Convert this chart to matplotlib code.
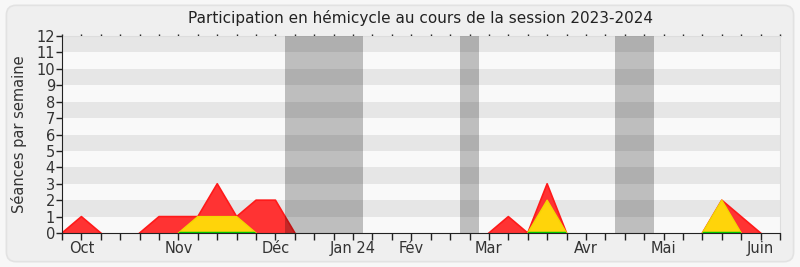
import matplotlib
matplotlib.use("Agg")
import matplotlib.pyplot as plt
import numpy as np
from matplotlib.patches import FancyBboxPatch

# Weekly data (week index 0 = last week of Sept 2023)
weeks = list(range(38))
total = [0, 1, 0, 0, 0, 1, 1, 1, 3, 1, 2, 2, 0, 0, 0, 0, 0, 0, 0, 0,
         0, 0, 0, 1, 0, 3, 0, 0, 0, 0, 0, 0, 0, 0, 2, 1, 0, 0]
partial = [0, 0, 0, 0, 0, 0, 0, 1, 1, 1, 0, 0, 0, 0, 0, 0, 0, 0, 0, 0,
           0, 0, 0, 0, 0, 2, 0, 0, 0, 0, 0, 0, 0, 0, 2, 0, 0, 0]
interventions = [0] * 38

month_ticks = [1, 6, 11, 15, 18, 22, 27, 31, 36]
month_labels = ["Oct", "Nov", "Déc", "Jan 24", "Fév", "Mar", "Avr", "Mai", "Juin"]

vacation_start = [11.5, 20.5, 28.5]
vacation_end = [15.5, 21.5, 30.5]

plt.rcParams['font.family'] = ['DejaVu Sans']

fig = plt.figure(figsize=(8, 2.67), dpi=100)
fig.patch.set_facecolor('#f7f7f7')
box = FancyBboxPatch((0.008, 0.02), 0.984, 0.96, boxstyle="round,pad=0,rounding_size=0.012",
                     transform=fig.transFigure, facecolor='#efefef', edgecolor='#e2e2e2',
                     linewidth=1.2, zorder=-10, mutation_aspect=3)
fig.patches.append(box)

ax = fig.add_axes([0.0775, 0.1273, 0.8975, 0.7379])
ax.set_facecolor('#f9f9f9')

x = np.array(weeks)
ymax = 12
for k in range(1, ymax, 2):
    ax.axhspan(k, k + 1, color='#e6e6e6', lw=0, zorder=0)


def outline(vals):
    v = np.array(vals, dtype=float)
    keep = np.zeros(len(v), dtype=bool)
    for i in range(len(v)):
        lo, hi = max(i - 1, 0), min(i + 1, len(v) - 1)
        keep[i] = v[lo:hi + 1].max() > 0
    return np.ma.masked_where(~keep, v)


ax.fill_between(x, 0, total, facecolor='#ff3333', edgecolor='none', zorder=2)
ax.plot(x, outline(total), color='#ff1a1a', linewidth=1.2, zorder=2.5)
poly = ax.fill_between(x, 0, partial, facecolor='#ffd40a', edgecolor='none', zorder=3)
ax.plot(x, outline(partial), color='#f2d800', linewidth=1.0, zorder=3.5)
gl, = ax.plot(x, interventions, color='#00cc00', linewidth=2.5, zorder=4)
gl.set_clip_path(poly.get_paths()[0], ax.transData)

for s, e in zip(vacation_start, vacation_end):
    ax.axvspan(s, e, color='black', alpha=0.235, lw=0, zorder=5)

ax.set_xlim(0, 37)
ax.set_ylim(0, ymax)
ax.set_yticks(range(0, ymax + 1))
ax.set_xticks(weeks)
labels = [''] * len(weeks)
for t, l in zip(month_ticks, month_labels):
    labels[t] = l
ax.set_xticklabels(labels)
ax.tick_params(axis='x', length=5, width=1, color='#222222', labelsize=10.5, labelcolor='#333333',
               direction='out', top=True, pad=1)
ax.tick_params(axis='y', length=4, width=1, color='#222222', labelsize=10.5, labelcolor='#333333', pad=1)
for t in ax.xaxis.get_major_ticks():
    t.tick2line.set_markersize(1.5)

for side in ['top', 'right']:
    ax.spines[side].set_color('#dddddd')
for side in ['left', 'bottom']:
    ax.spines[side].set_color('#222222')
    ax.spines[side].set_zorder(6)

ax.set_ylabel("Séances par semaine", fontsize=10.5, color='#333333', labelpad=7)
ax.set_title("Participation en hémicycle au cours de la session 2023-2024", fontsize=11,
             color='#222222', pad=9)

fig.savefig("out.png", dpi=100, facecolor=fig.get_facecolor())
